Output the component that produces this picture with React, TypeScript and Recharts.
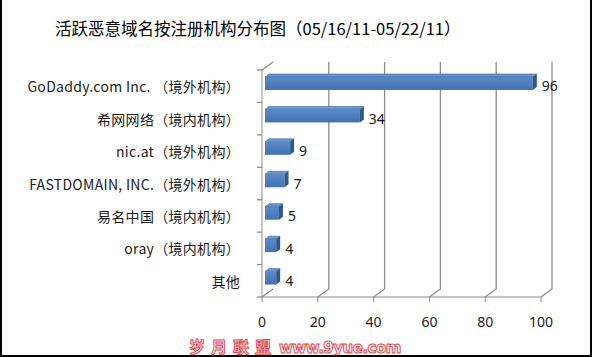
import { BarChart, Bar, XAxis, YAxis, CartesianGrid, LabelList } from "recharts";

const categories = [
  "GoDaddy.com Inc. （境外机构）",
  "希网网络（境内机构）",
  "nic.at（境外机构）",
  "FASTDOMAIN, INC.（境外机构）",
  "易名中国（境内机构）",
  "oray（境内机构）",
  "其他",
];
const counts = [96, 34, 9, 7, 5, 4, 4];
const xTicks = [0, 20, 40, 60, 80, 100];

const title = "活跃恶意域名按注册机构分布图（05/16/11-05/22/11）";

const data = categories.map((name, i) => ({ name, value: counts[i] }));

// 3D depth of the walls and of the bars
const DX = 11;
const DY = 8;
const PLOT_H = 227;
const BAND = PLOT_H / categories.length;
const FONT = "'Noto Sans CJK SC', 'Noto Sans', sans-serif";

function Bar3D(props: any) {
  const { x, y, width, height } = props;
  if (!width || width <= 0) return null;
  const fx = x + 3;
  const fy = y - 3;
  const d = 4;
  const h = 3;
  return (
    <g>
      <rect x={fx} y={fy} width={width} height={height} fill="url(#barFront)" />
      <polygon
        points={`${fx},${fy} ${fx + d},${fy - h} ${fx + width + d},${fy - h} ${fx + width},${fy}`}
        fill="#6a96cf"
        stroke="#3a659c"
        strokeWidth={0.6}
      />
      <polygon
        points={`${fx + width},${fy} ${fx + width + d},${fy - h} ${fx + width + d},${fy - h + height} ${fx + width},${fy + height}`}
        fill="#2f5889"
      />
    </g>
  );
}

function GridLine3D(props: any) {
  const { x1, y1, y2, index } = props;
  const top = Math.min(y1, y2);
  const bottom = Math.max(y1, y2);
  const d =
    index === 0
      ? `M${x1},${bottom} L${x1 + DX},${bottom - DY} M${x1},${top} L${x1 + DX},${top - DY}`
      : `M${x1},${bottom} L${x1 + DX},${bottom - DY} L${x1 + DX},${top - DY}`;
  return <path key={`g-${index}`} d={d} stroke="#8c8c8c" strokeWidth={1.3} fill="none" />;
}

function CategoryTick(props: any) {
  const { x, y, payload, index } = props;
  const axisX = x + 22;
  return (
    <g>
      <line x1={axisX - 5} x2={axisX} y1={y - BAND / 2} y2={y - BAND / 2} stroke="#8c8c8c" strokeWidth={1.3} />
      {index === categories.length - 1 && (
        <line x1={axisX - 5} x2={axisX} y1={y + BAND / 2} y2={y + BAND / 2} stroke="#8c8c8c" strokeWidth={1.3} />
      )}
      <text
        x={x}
        y={y}
        textAnchor="end"
        dominantBaseline="central"
        fontSize={14}
        letterSpacing={0.3}
        fill="#1a1a1a"
        fontFamily={FONT}
      >
        {payload.value}
      </text>
    </g>
  );
}

export default function App() {
  return (
    <div style={{ position: "absolute", left: 0, top: 0, width: 592, height: 357, background: "#fff", overflow: "hidden" }}>
      <div
        style={{
          position: "absolute",
          left: 55,
          top: 19,
          fontSize: 16.5,
          lineHeight: "18px",
          fontFamily: FONT,
          color: "#000",
          whiteSpace: "nowrap",
        }}
      >
        {title}
      </div>
      <div style={{ position: "absolute", left: 0, top: 0 }}>
        <BarChart
          width={592}
          height={357}
          data={data}
          layout="vertical"
          margin={{ top: 70, right: 51, bottom: 0, left: 0 }}
          barCategoryGap={0}
        >
          <defs>
            <linearGradient id="barFront" x1="0" y1="0" x2="0" y2="1">
              <stop offset="0%" stopColor="#5b8bc8" />
              <stop offset="100%" stopColor="#4273b2" />
            </linearGradient>
          </defs>
          <CartesianGrid horizontal={false} vertical={GridLine3D} />
          <XAxis
            type="number"
            domain={[0, 100]}
            ticks={xTicks}
            height={60}
            tickSize={5}
            tickMargin={15}
            stroke="#8c8c8c"
            tick={{ fill: "#1a1a1a", fontSize: 14, fontFamily: "'Noto Sans', sans-serif" }}
          />
          <YAxis
            type="category"
            dataKey="name"
            width={262}
            tickSize={5}
            tickMargin={17}
            tickLine={false}
            stroke="#8c8c8c"
            tick={CategoryTick}
            interval={0}
          />
          <Bar dataKey="value" barSize={13} shape={Bar3D} isAnimationActive={false}>
            <LabelList
              dataKey="value"
              position="right"
              offset={12}
              fill="#1a1a1a"
              fontSize={14}
              fontFamily="'Noto Sans', sans-serif"
            />
          </Bar>
        </BarChart>
      </div>
      <div
        style={{
          position: "absolute",
          left: 189,
          top: 337,
          fontSize: 16,
          lineHeight: "18px",
          fontWeight: 700,
          fontFamily: FONT,
          color: "#fff",
          WebkitTextStroke: "1px #e0464f",
          whiteSpace: "nowrap",
        }}
      >
        <span style={{ letterSpacing: 6 }}>岁月联盟</span>
        <span style={{ marginLeft: 2, fontFamily: "'DejaVu Sans', sans-serif", fontSize: 15, letterSpacing: -0.5 }}>
          www.9yue.com
        </span>
      </div>
      <div
        style={{
          position: "absolute",
          left: 0,
          top: 0,
          width: 592,
          height: 357,
          boxSizing: "border-box",
          borderLeft: "2px solid #000",
          borderRight: "2px solid #000",
          borderBottom: "2px solid #000",
          pointerEvents: "none",
        }}
      />
    </div>
  );
}
